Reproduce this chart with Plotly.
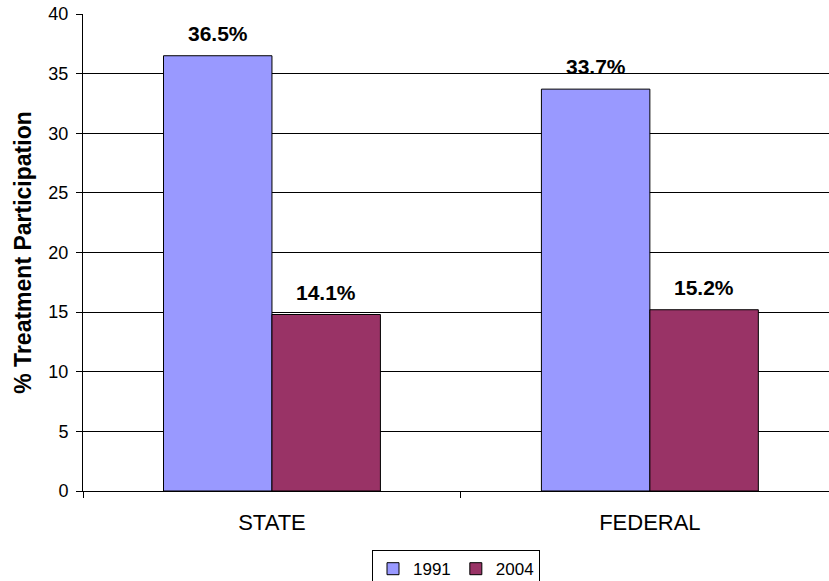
import plotly.graph_objects as go

categories = ["STATE", "FEDERAL"]
series_names = ["1991", "2004"]
values_1991 = [36.5, 33.7]
values_2004 = [14.8, 15.2]
labels_1991 = ["36.5%", "33.7%"]
labels_2004 = ["14.1%", "15.2%"]
y_ticks = [0, 5, 10, 15, 20, 25, 30, 35, 40]

colors = ["#9999FF", "#993366"]
font_family = "Arial, Liberation Sans, sans-serif"
bargap = 0.426

fig = go.Figure()
for name, vals, color in zip(series_names, [values_1991, values_2004], colors):
    fig.add_trace(go.Bar(
        x=categories,
        y=vals,
        name=name,
        marker=dict(color=color, line=dict(color="black", width=1)),
    ))

# value labels above each bar
bar_w = (1 - bargap) / 2
for k, (vals, labs) in enumerate([(values_1991, labels_1991), (values_2004, labels_2004)]):
    offset = (k - 0.5) * bar_w
    for i, (v, t) in enumerate(zip(vals, labs)):
        fig.add_annotation(
            x=i + offset, y=v, text="<b>%s</b>" % t,
            showarrow=False, yanchor="bottom", yshift=9,
            font=dict(size=21, color="black", family=font_family),
        )

fig.update_layout(
    width=829,
    height=581,
    barmode="group",
    bargap=bargap,
    bargroupgap=0,
    plot_bgcolor="white",
    paper_bgcolor="white",
    font=dict(family=font_family, size=17, color="black"),
    margin=dict(l=83, r=0, t=14, b=90, autoexpand=False),
    legend=dict(
        orientation="h",
        x=0.5, xanchor="center",
        y=-0.124, yanchor="top",
        bordercolor="black", borderwidth=1,
        font=dict(size=17),
        itemwidth=30,
        tracegroupgap=0,
    ),
)

fig.update_xaxes(
    type="category",
    range=[-0.5, 1.474],
    automargin=False,
    showline=True, linecolor="black", linewidth=1,
    ticks="outside", tickson="boundaries", ticklen=6, tickcolor="black",
    ticklabelstandoff=12,
    showgrid=False,
    tickfont=dict(size=22),
)

fig.update_yaxes(
    range=[0, 40],
    tickvals=y_ticks,
    automargin=False,
    showline=True, linecolor="black", linewidth=1,
    ticks="outside", ticklen=6, tickcolor="black",
    ticklabelstandoff=4,
    showgrid=True, gridcolor="black", gridwidth=1,
    zeroline=False,
    tickfont=dict(size=18),
    title=dict(text="<b>% Treatment Participation</b>", font=dict(size=23), standoff=10),
)

fig.write_html(
    "out.html",
    config={"displayModeBar": False},
    post_script="document.body.style.margin='0';",
)
